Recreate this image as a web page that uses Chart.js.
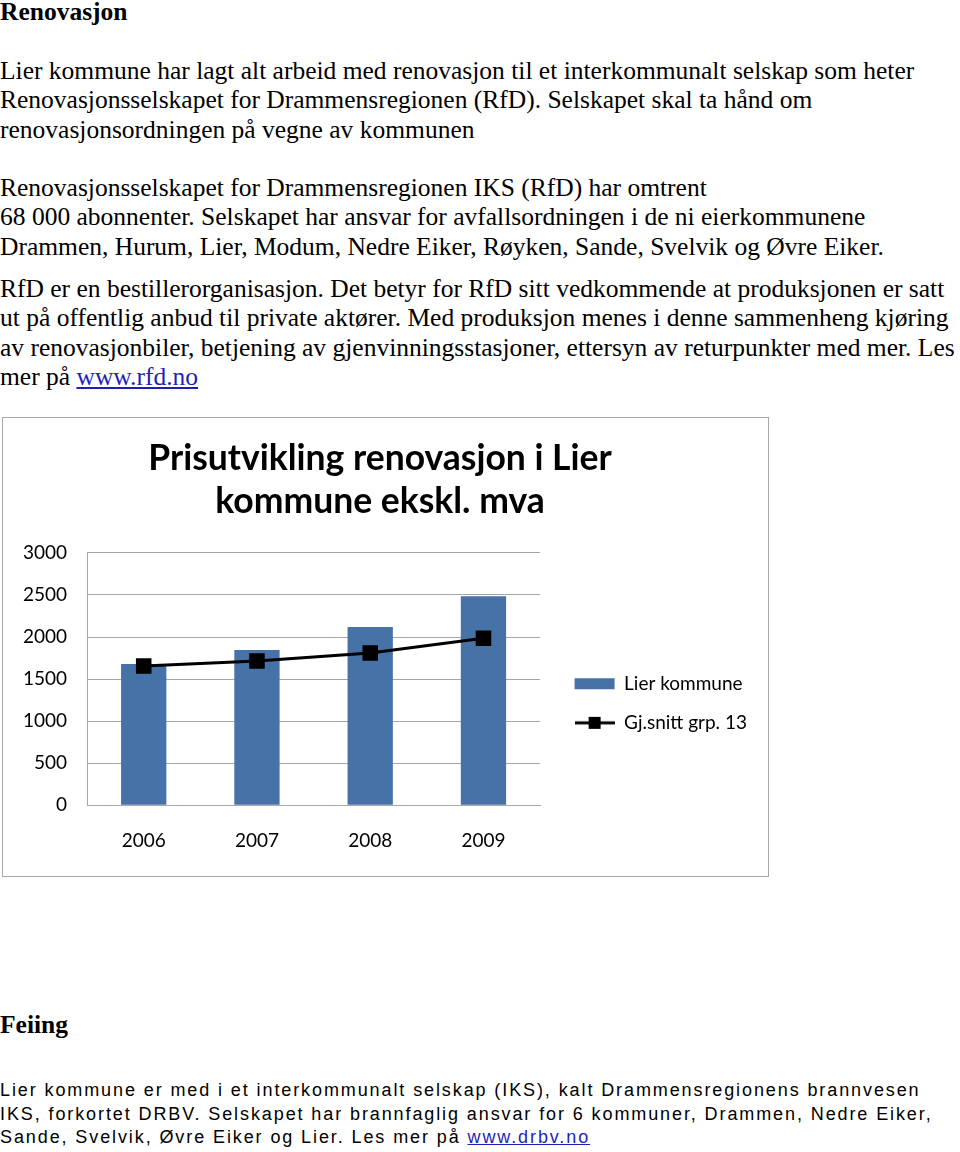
<!DOCTYPE html>
<html>
<head>
<meta charset="utf-8">
<script src="https://cdn.jsdelivr.net/npm/chart.js@4.4.1/dist/chart.umd.min.js"></script>
<style>
  body { margin: 0; background: #fff; width: 960px; height: 1152px; position: relative; overflow: hidden;
         font-family: 'Liberation Serif', 'Times New Roman', serif; color: #000; }
  .t { position: absolute; left: 0; font-size: 25.5px; line-height: 29.3px; white-space: nowrap; }
  .b { font-weight: bold; }
  .s { font-family: 'Liberation Sans', Arial, sans-serif; font-size: 18px; line-height: 23.5px; letter-spacing: 1.9px; }
  a { color: #1f1fb8; text-decoration: underline; }
  #box { position: absolute; left: 2px; top: 417px; width: 767px; height: 460px;
         border: 1px solid #a8a8a8; box-sizing: border-box; }
  #wrap { position: relative; width: 765px; height: 458px; }
</style>
</head>
<body>
<div class="t b" style="top:-3px">Renovasjon</div>
<div class="t" style="top:56px">Lier kommune har lagt alt arbeid med renovasjon til et interkommunalt selskap som heter<br>Renovasjonsselskapet for Drammensregionen (RfD). Selskapet skal ta hånd om<br>renovasjonsordningen på vegne av kommunen</div>
<div class="t" style="top:173px">Renovasjonsselskapet for Drammensregionen IKS (RfD) har omtrent<br>68 000 abonnenter. Selskapet har ansvar for avfallsordningen i de ni eierkommunene<br>Drammen, Hurum, Lier, Modum, Nedre Eiker, Røyken, Sande, Svelvik og Øvre Eiker.</div>
<div class="t" style="top:274px">RfD er en bestillerorganisasjon. Det betyr for RfD sitt vedkommende at produksjonen er satt<br>ut på offentlig anbud til private aktører. Med produksjon menes i denne sammenheng kjøring<br>av renovasjonbiler, betjening av gjenvinningsstasjoner, ettersyn av returpunkter med mer. Les<br>mer på <a href="#">www.rfd.no</a></div>

<div id="box"><div id="wrap"><canvas id="chart"></canvas></div></div>

<div class="t b" style="top:1010px">Feiing</div>
<div class="t s" style="top:1079px">Lier kommune er med i et interkommunalt selskap (IKS), kalt Drammensregionens brannvesen<br>IKS, forkortet DRBV. Selskapet har brannfaglig ansvar for 6 kommuner, Drammen, Nedre Eiker,<br>Sande, Svelvik, Øvre Eiker og Lier. Les mer på <a href="#">www.drbv.no</a></div>

<script>
const years = ['2006', '2007', '2008', '2009'];
const lierKommune = [1680, 1845, 2120, 2485];
const gjSnitt = [1655, 1715, 1810, 1985];
const yMin = 0, yMax = 3000, yStep = 500;

Chart.defaults.font.family = 'Lato';
Chart.defaults.color = '#000';

// legend icon for the line series: line with a square marker
const lineIcon = document.createElement('canvas');
lineIcon.width = 40;
lineIcon.height = 14;
const ic = lineIcon.getContext('2d');
ic.strokeStyle = '#000';
ic.lineWidth = 3;
ic.beginPath();
ic.moveTo(0, 7);
ic.lineTo(40, 7);
ic.stroke();
ic.fillStyle = '#000';
ic.fillRect(14, 1, 12, 12);

new Chart(document.getElementById('chart'), {
  data: {
    labels: years,
    datasets: [
      {
        type: 'bar',
        label: 'Lier kommune',
        data: lierKommune,
        backgroundColor: '#4672a8',
        borderWidth: 0,
        barPercentage: 0.4,
        categoryPercentage: 1,
        order: 2
      },
      {
        type: 'line',
        label: 'Gj.snitt grp. 13',
        data: gjSnitt,
        borderColor: '#000',
        backgroundColor: '#000',
        borderWidth: 3,
        pointStyle: 'rect',
        pointRadius: 11,
        pointBackgroundColor: '#000',
        pointBorderWidth: 0,
        tension: 0,
        order: 1
      }
    ]
  },
  options: {
    responsive: true,
    maintainAspectRatio: false,
    animation: false,
    layout: { padding: { left: 0, right: 11, top: 0, bottom: 0 } },
    scales: {
      x: {
        grid: { display: false, drawTicks: false },
        border: { color: '#a6a6a6' },
        ticks: { font: { size: 19 }, padding: 24, color: '#000' }
      },
      y: {
        min: yMin,
        max: yMax,
        ticks: { stepSize: yStep, font: { size: 19 }, padding: 20, color: '#000', callback: v => String(v) },
        grid: { color: '#a6a6a6', drawTicks: false },
        border: { color: '#a6a6a6' }
      },
      gap: {
        // empty spacer between plot and legend
        position: 'right',
        display: true,
        grid: { display: false, drawTicks: false },
        border: { display: false },
        ticks: { display: false },
        afterFit: s => { s.width = 14.5; }
      }
    },
    plugins: {
      tooltip: { enabled: false },
      title: {
        display: true,
        text: ['Prisutvikling renovasjon i Lier', 'kommune ekskl. mva'],
        color: '#000',
        font: { size: 35.5, weight: 'bold', lineHeight: 1.21 },
        padding: { top: 19.5, bottom: 29.5 }
      },
      legend: {
        position: 'right',
        fullSize: false,
        maxWidth: 260,
        title: { display: true, text: '', padding: 0, font: { size: 40.5 } },
        labels: {
          usePointStyle: true,
          pointStyleWidth: 40,
          boxHeight: 11,
          padding: 20,
          color: '#000',
          font: { size: 19 },
          sort: (a, b) => a.datasetIndex - b.datasetIndex,
          generateLabels: chart => {
            const items = Chart.defaults.plugins.legend.labels.generateLabels(chart);
            items.forEach(it => {
              it.pointStyle = it.datasetIndex === 1 ? lineIcon : 'rect';
            });
            return items;
          }
        }
      }
    }
  }
});
</script>
</body>
</html>
